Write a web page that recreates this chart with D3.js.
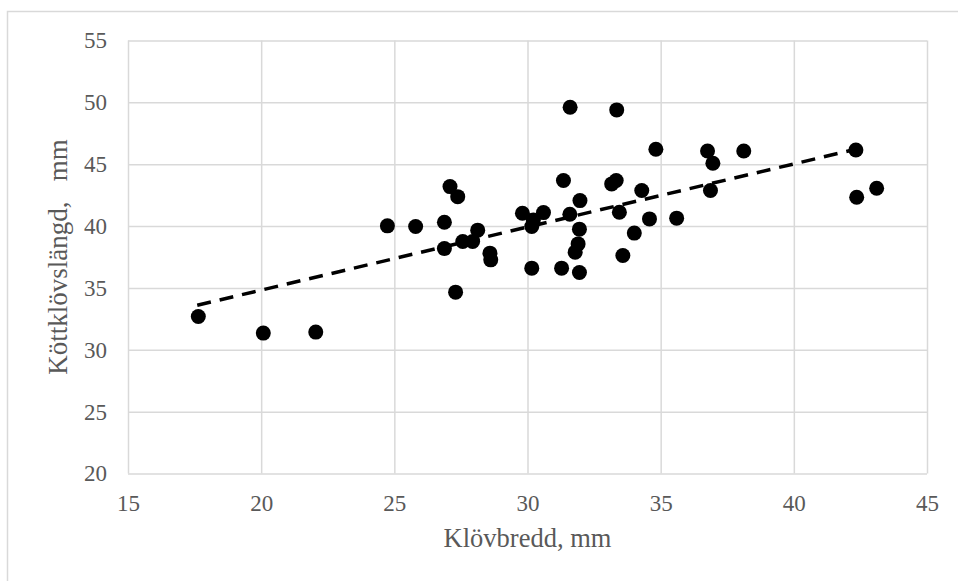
<!DOCTYPE html>
<html>
<head>
<meta charset="utf-8">
<script src="https://cdn.jsdelivr.net/npm/d3@7"></script>
<style>
  body { margin: 0; background: #fff; }
  text { font-family: "Liberation Serif", "Times New Roman", serif; fill: #595959; }
</style>
</head>
<body>
<svg id="svg"></svg>
<script>
  // values
  const klovbredd = [17.64, 20.08, 22.05, 24.74, 25.80, 26.88, 27.09, 27.38, 26.88, 27.30,
    27.57, 27.94, 28.13, 28.59, 28.62, 29.81, 30.60, 30.22, 30.16, 30.16,
    31.35, 31.60, 33.35, 31.59, 31.97, 31.95, 31.90, 31.79, 31.28, 31.95,
    33.16, 33.33, 33.45, 33.58, 34.01, 34.29, 34.58, 34.82, 35.60, 36.76,
    36.96, 36.87, 38.12, 42.33, 42.36, 43.11];
  const kottklovslangd = [32.69, 31.35, 31.43, 40.02, 39.96, 40.31, 43.19, 42.38, 38.18, 34.66,
    38.75, 38.75, 39.67, 37.81, 37.27, 41.04, 41.09, 40.50, 39.96, 36.60,
    43.68, 49.60, 49.39, 40.96, 42.06, 39.75, 38.56, 37.89, 36.60, 36.25,
    43.41, 43.68, 41.12, 37.62, 39.43, 42.87, 40.58, 46.21, 40.64, 46.07,
    45.08, 42.87, 46.07, 46.15, 42.33, 43.06];
  const trendX = [17.6, 42.7];
  const trendY = [33.6, 46.4];
  const xTicks = [15, 20, 25, 30, 35, 40, 45];
  const yTicks = [20, 25, 30, 35, 40, 45, 50, 55];

  const marginLeft = 128;
  const marginTop = 40.5;
  const width = 927 - marginLeft;
  const height = 473.5 - marginTop;

  const svg = d3.select("#svg")
      .attr("width", 958)
      .attr("height", 581);

  // outer chart frame
  svg.append("rect")
      .attr("x", 7.5).attr("y", 11.5)
      .attr("width", 970).attr("height", 590)
      .attr("fill", "none")
      .attr("stroke", "#d9d9d9")
      .attr("stroke-width", 1.5);

  const xScale = d3.scaleLinear().domain([15, 45]).range([0, width]);
  const yScale = d3.scaleLinear().domain([20, 55]).range([height, 0]);

  const chart = svg.append("g")
      .attr("transform", `translate(${marginLeft}, ${marginTop})`);

  // grid
  chart.append("g")
      .call(d3.axisLeft(yScale).tickValues(yTicks).tickSize(-width).tickFormat(""))
      .call(g => g.select(".domain").remove())
      .selectAll("line").attr("stroke", "#d9d9d9").attr("stroke-width", 1.5);

  chart.append("g")
      .attr("transform", `translate(0, ${height})`)
      .call(d3.axisBottom(xScale).tickValues(xTicks).tickSize(-height).tickFormat(""))
      .call(g => g.select(".domain").remove())
      .selectAll("line").attr("stroke", "#d9d9d9").attr("stroke-width", 1.5);

  // tick labels
  chart.append("g")
      .call(d3.axisLeft(yScale).tickValues(yTicks).tickSize(0).tickPadding(21))
      .call(g => g.select(".domain").remove())
      .selectAll("text")
      .attr("font-size", 23).attr("font-family", "Liberation Serif").attr("fill", "#595959");

  chart.append("g")
      .attr("transform", `translate(0, ${height})`)
      .call(d3.axisBottom(xScale).tickValues(xTicks).tickSize(0).tickPadding(21))
      .call(g => g.select(".domain").remove())
      .selectAll("text")
      .attr("font-size", 23).attr("font-family", "Liberation Serif").attr("fill", "#595959");

  // points
  const points = klovbredd.map((d, i) => ({ x: d, y: kottklovslangd[i] }));
  chart.selectAll(".dot")
      .data(points)
      .enter().append("circle")
      .attr("class", "dot")
      .attr("cx", d => xScale(d.x))
      .attr("cy", d => yScale(d.y))
      .attr("r", 7.5)
      .attr("fill", "#000");

  // trend line
  chart.append("path")
      .datum(trendX.map((d, i) => [d, trendY[i]]))
      .attr("fill", "none")
      .attr("stroke", "#000")
      .attr("stroke-width", 3.5)
      .attr("stroke-dasharray", "14,9")
      .attr("d", d3.line().x(d => xScale(d[0])).y(d => yScale(d[1])));

  // axis titles
  svg.append("text")
      .attr("x", marginLeft + width / 2)
      .attr("y", 547)
      .attr("text-anchor", "middle")
      .attr("font-size", 26.5)
      .text("Klövbredd, mm");

  svg.append("text")
      .attr("transform", `translate(67, ${marginTop + height / 2}) rotate(-90)`)
      .attr("text-anchor", "middle")
      .attr("font-size", 27)
      .attr("xml:space", "preserve")
      .style("white-space", "pre")
      .text("Köttklövslängd,   mm");
</script>
</body>
</html>
